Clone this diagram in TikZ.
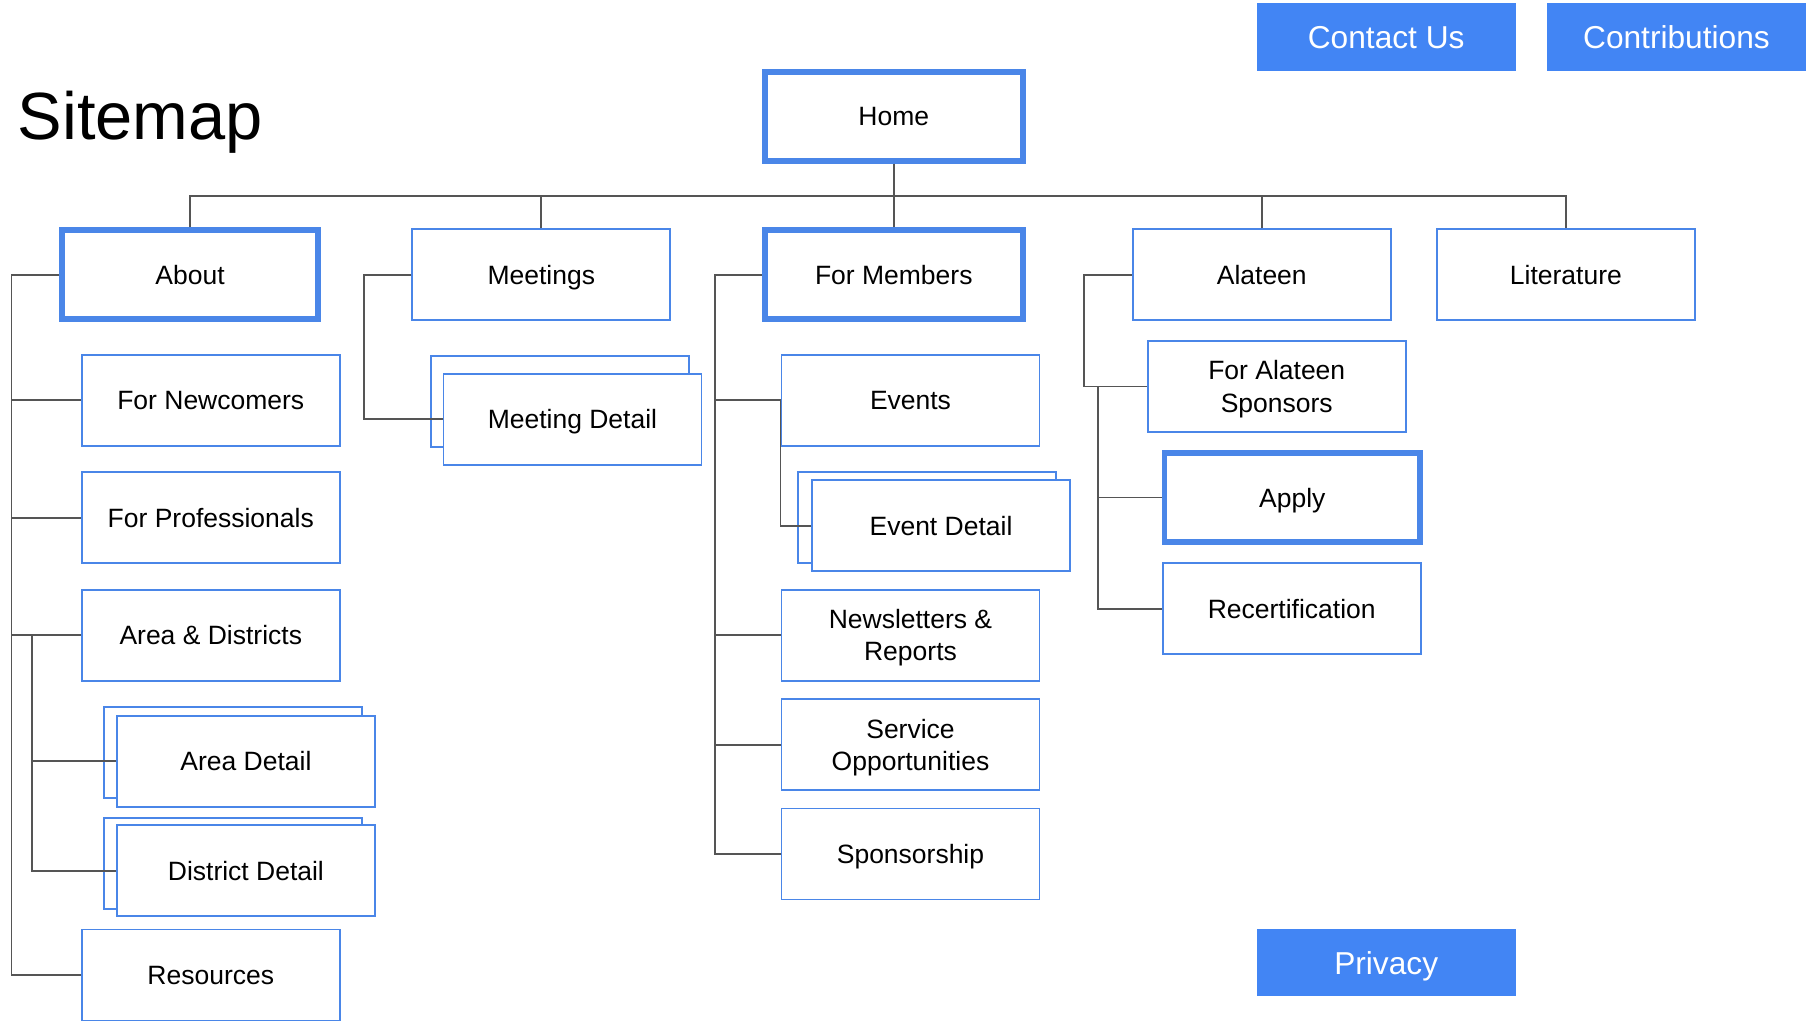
\documentclass[tikz,border=0pt]{standalone}
\usepackage{fontspec}
\setmainfont{Liberation Sans}
\definecolor{boxblue}{HTML}{4A86E8}
\definecolor{btnblue}{HTML}{4285F4}
\definecolor{linegray}{HTML}{555555}
\begin{document}
\begin{tikzpicture}[x=0.5pt,y=-0.5pt,
  box/.style={draw=boxblue,line width=0.8pt,fill=white,minimum width=112pt,minimum height=39.5pt,inner sep=0pt,align=center,font=\fontsize{11.5}{14}\selectfont,text height=8.25pt,text depth=0pt},
  twoline/.style={text height=22.25pt,text depth=0pt},
  thickbox/.style={box,line width=2.5pt,minimum width=111pt,minimum height=38.5pt},
  button/.style={fill=btnblue,minimum width=112.5pt,minimum height=29.5pt,inner sep=0pt,text=white,font=\fontsize{13.75}{16}\selectfont,text height=9.85pt,text depth=0pt},
  conn/.style={draw=linegray,line width=0.8pt}]
\useasboundingbox (0,0) rectangle (1568,887);
% title
\node[anchor=base west,inner sep=0pt,font=\fontsize{29}{34}\selectfont] (title) at (15,121) {Sitemap};
% buttons
\node[button] (contact) at (1203.5,32.5) {Contact Us};
\node[button] (contrib) at (1455.5,32.5) {Contributions};
\node[button,minimum height=29pt] (privacy) at (1203.5,836) {Privacy};
% top level
\node[thickbox,minimum width=112pt] (home) at (776,101) {Home};
\node[thickbox] (about) at (165,238.5) {About};
\node[box] (meetings) at (470,238.5) {Meetings};
\node[thickbox,minimum width=112pt] (members) at (776,238.5) {For Members};
\node[box] (alateen) at (1095.5,238.5) {Alateen};
\node[box] (literature) at (1359.5,238.5) {Literature};
% about children
\node[box] (newcomers) at (183,347.5) {For Newcomers};
\node[box] (professionals) at (183,449.5) {For Professionals};
\node[box] (areas) at (183,551.5) {Area \& Districts};
\node[box] (areaback) at (202.5,653) {};
\node[box] (areadetail) at (213.5,661) {Area Detail};
\node[box] (districtback) at (202.5,750) {};
\node[box] (districtdetail) at (213.5,756) {District Detail};
\node[box] (resources) at (183,846.5) {Resources};
% meetings children
\node[box] (meetingback) at (486.5,348.5) {};
\node[box] (meetingdetail) at (497,364) {Meeting Detail};
% members children
\node[box] (events) at (790.5,347.5) {Events};
\node[box] (eventback) at (804.5,449.5) {};
\node[box] (eventdetail) at (817,456.5) {Event Detail};
\node[box,twoline] (newsletters) at (790.5,551.5) {Newsletters \&\\Reports};
\node[box,twoline] (service) at (790.5,646.5) {Service\\Opportunities};
\node[box] (sponsorship) at (790.5,741.5) {Sponsorship};
% alateen children
\node[box,twoline] (sponsors) at (1108.5,335.5) {For Alateen\\Sponsors};
\node[thickbox] (apply) at (1122,432) {Apply};
\node[box] (recert) at (1121.5,528.5) {Recertification};
% rails
\coordinate (bus) at (776,170);
\coordinate (aboutrail) at (10,0);
\coordinate (arearail) at (28,0);
\coordinate (meetrail) at (316,0);
\coordinate (memrail) at (621,0);
\coordinate (alarail) at (941,0);
\coordinate (sponrail) at (953,0);
% connectors
\draw[conn] (home.south) -- (bus);
\draw[conn] (about.north) -- (about.north |- bus) -- (literature.north |- bus) -- (literature.north);
\draw[conn] (meetings.north) -- (meetings.north |- bus);
\draw[conn] (members.north) -- (members.north |- bus);
\draw[conn] (alateen.north) -- (alateen.north |- bus);
\draw[conn] (about.west) -- (about.west -| aboutrail) |- (resources.west);
\draw[conn] (newcomers.west) -- (newcomers.west -| aboutrail);
\draw[conn] (professionals.west) -- (professionals.west -| aboutrail);
\draw[conn] (areas.west) -- (areas.west -| aboutrail);
\draw[conn] (areas.west -| arearail) |- (districtdetail.west);
\draw[conn] (areadetail.west) -- (areadetail.west -| arearail);
\draw[conn] (meetings.west) -- (meetings.west -| meetrail) |- (meetingdetail.west);
\draw[conn] (members.west) -- (members.west -| memrail) |- (sponsorship.west);
\draw[conn] (events.west) -- (events.west -| memrail);
\draw[conn] (newsletters.west) -- (newsletters.west -| memrail);
\draw[conn] (service.west) -- (service.west -| memrail);
\draw[conn] (events.west) |- (eventdetail.west);
\draw[conn] (alateen.west) -- (alateen.west -| alarail) |- (sponsors.west);
\draw[conn] (sponsors.west -| sponrail) |- (recert.west);
\draw[conn] (apply.west) -- (apply.west -| sponrail);
\end{tikzpicture}
\end{document}
